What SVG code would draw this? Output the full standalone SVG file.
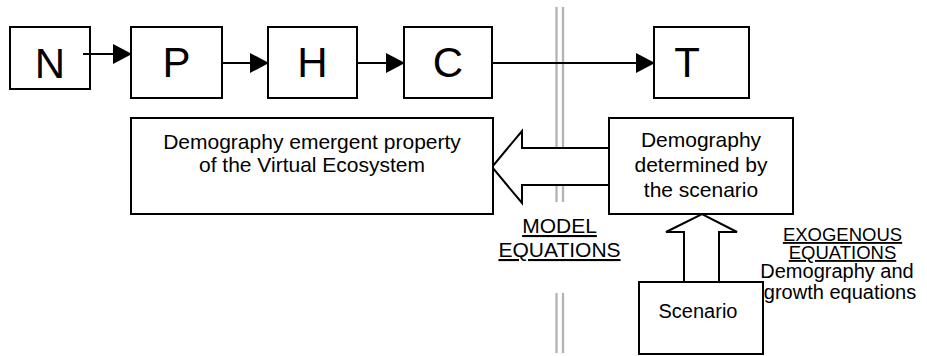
<svg xmlns="http://www.w3.org/2000/svg" width="927" height="356" viewBox="0 0 927 356">
<defs>
<style>
.box{fill:#fff;stroke:#000;stroke-width:2}
.big{font-family:"Liberation Sans",Arial,sans-serif;font-size:42px;fill:#000;text-anchor:middle}
.t{font-family:"Liberation Sans",Arial,sans-serif;font-size:21px;fill:#000;text-anchor:middle}
.s{font-family:"Liberation Sans",Arial,sans-serif;font-size:20px;fill:#000;text-anchor:middle}
.u{text-decoration:underline}
.ln{fill:none;stroke:#000;stroke-width:2}
.gray{stroke:#b3b3b3;stroke-width:2.3;fill:none}
.hollow{fill:#fff;stroke:#000;stroke-width:2;stroke-linejoin:miter}
</style>
<marker id="ah" markerUnits="userSpaceOnUse" markerWidth="20" markerHeight="20" viewBox="0 0 19 20" refX="18" refY="10" orient="auto">
<path d="M0,0 L19,10 L0,20 z" fill="#000"/>
</marker>
</defs>
<rect width="927" height="356" fill="#fff"/>
<g id="divider">
<line class="gray" x1="556.5" y1="7" x2="556.5" y2="202"/>
<line class="gray" x1="563" y1="7" x2="563" y2="202"/>
<line class="gray" x1="556.5" y1="293" x2="556.5" y2="353"/>
<line class="gray" x1="563" y1="293" x2="563" y2="353"/>
</g>
<g id="N"><rect class="box" x="10" y="27" width="80" height="62"/><text class="big" x="50" y="78">N</text></g>
<g id="P"><rect class="box" x="131" y="27" width="91" height="71"/><text class="big" x="176.5" y="77">P</text></g>
<g id="H"><rect class="box" x="268" y="27" width="89" height="71"/><text class="big" x="312.5" y="77">H</text></g>
<g id="C"><rect class="box" x="404" y="27" width="88" height="71"/><text class="big" x="448" y="77">C</text></g>
<g id="T"><rect class="box" x="654" y="27" width="95" height="71"/><text class="big" x="687" y="77">T</text></g>
<g id="connectors">
<line class="ln" x1="83" y1="54" x2="131" y2="54" marker-end="url(#ah)"/>
<line class="ln" x1="222" y1="63" x2="268" y2="63" marker-end="url(#ah)"/>
<line class="ln" x1="357" y1="63" x2="404" y2="63" marker-end="url(#ah)"/>
<line class="ln" x1="492" y1="63" x2="654" y2="63" marker-end="url(#ah)"/>
<path class="hollow" d="M609,148 L522,148 L522,131 L492,167 L522,203 L522,185 L609,185"/>
<path class="hollow" d="M684,282 L684,232 L666,232 L702,214 L737,232 L719,232 L719,282"/>
</g>
<g id="emergent"><rect class="box" x="131" y="118" width="362" height="96"/>
<text class="t" x="312" y="149">Demography emergent property</text>
<text class="t" x="312" y="172">of the Virtual Ecosystem</text></g>
<g id="determined"><rect class="box" x="609" y="118" width="184" height="96"/>
<text class="t" x="701" y="147">Demography</text>
<text class="t" x="701" y="172">determined by</text>
<text class="t" x="701" y="197">the scenario</text></g>
<g id="scenario"><rect class="box" x="639" y="282" width="124" height="72"/>
<text class="s" x="698" y="318">Scenario</text></g>
<g id="model-label">
<text class="t u" x="559.5" y="233">MODEL</text>
<text class="t u" x="559.5" y="257">EQUATIONS</text></g>
<g id="exo-label">
<text class="s u" x="842.5" y="241" style="font-size:18.5px">EXOGENOUS</text>
<text class="s u" x="842.5" y="259" style="font-size:18.5px">EQUATIONS</text>
<text class="s" x="837" y="278">Demography and</text>
<text class="s" x="840" y="299">growth equations</text></g>
</svg>
